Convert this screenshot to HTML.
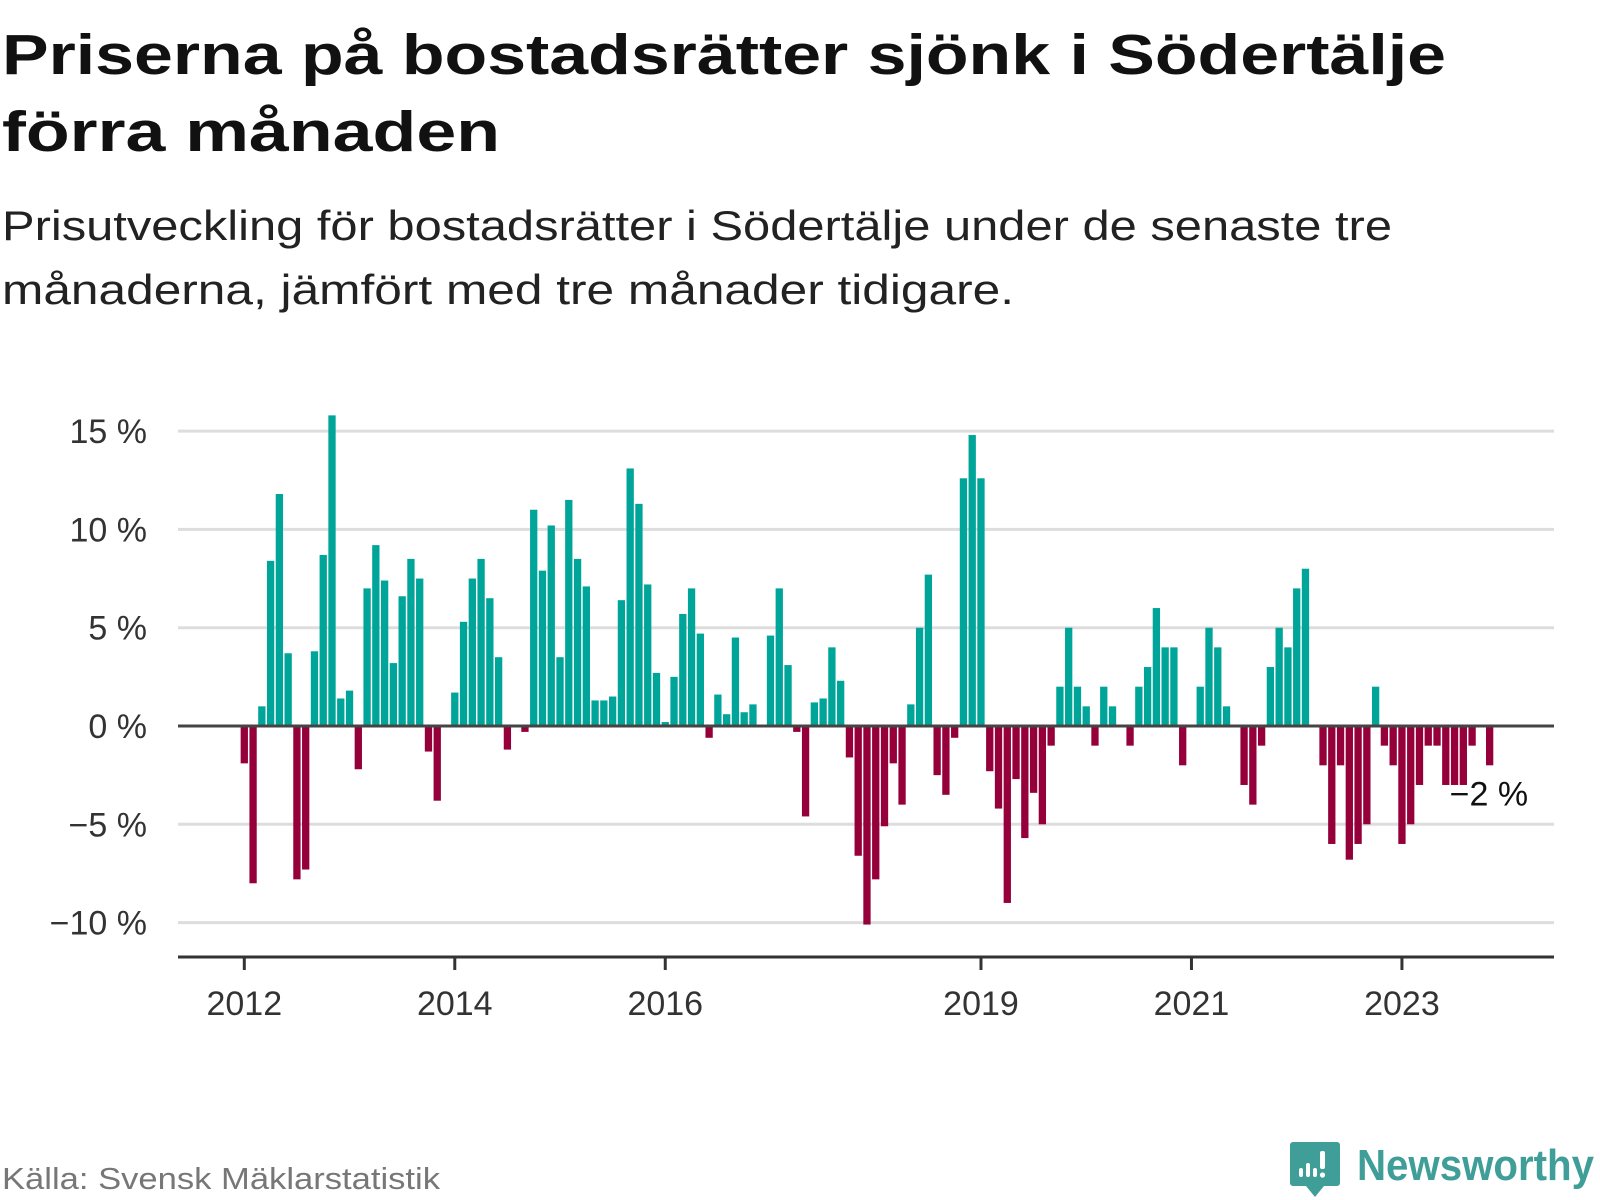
<!DOCTYPE html>
<html><head><meta charset="utf-8">
<style>
html,body{margin:0;padding:0;background:#fff;}
svg{display:block;font-family:"Liberation Sans","DejaVu Sans",sans-serif;}
</style></head>
<body>
<svg id="chart" width="1600" height="1200" viewBox="0 0 1600 1200" xmlns="http://www.w3.org/2000/svg">
  <text x="2" y="74" font-size="57" font-weight="bold" fill="#111" textLength="1444" lengthAdjust="spacingAndGlyphs">Priserna på bostadsrätter sjönk i Södertälje</text>
  <text x="2" y="151" font-size="57" font-weight="bold" fill="#111" textLength="498" lengthAdjust="spacingAndGlyphs">förra månaden</text>
  <text x="2" y="240" font-size="42" fill="#222" textLength="1390" lengthAdjust="spacingAndGlyphs">Prisutveckling för bostadsrätter i Södertälje under de senaste tre</text>
  <text x="2" y="304" font-size="42" fill="#222" textLength="1012" lengthAdjust="spacingAndGlyphs">månaderna, jämfört med tre månader tidigare.</text>
  <g id="grid"></g>
  <g id="yticks"></g>
  <g id="bars"></g>
  <line id="zeroLine" stroke="#444" stroke-width="3"></line>
  <g id="xaxis"></g>
  <text id="lastLabel" font-size="34" fill="#111">−2 %</text>
  <text x="2" y="1189" font-size="31" fill="#777" textLength="438" lengthAdjust="spacingAndGlyphs">Källa: Svensk Mäklarstatistik</text>
  <g>
    <path d="M1293 1142 h44 a3 3 0 0 1 3 3 v38 a3 3 0 0 1 -3 3 h-13 l-9 11 l-9 -11 h-13 a3 3 0 0 1 -3 -3 v-38 a3 3 0 0 1 3 -3z" fill="#3f9e97"/>
    <rect x="1299" y="1168" width="4" height="9" rx="2" fill="#fff"/>
    <rect x="1306" y="1163" width="4" height="14" rx="2" fill="#fff"/>
    <rect x="1313" y="1168" width="4" height="9" rx="2" fill="#fff"/>
    <rect x="1320" y="1151" width="5" height="18" rx="2" fill="#fff"/>
    <circle cx="1322.5" cy="1175" r="2.6" fill="#fff"/>
    <text x="1357" y="1180" font-size="44" font-weight="bold" fill="#3f9e97" textLength="237" lengthAdjust="spacingAndGlyphs">Newsworthy</text>
  </g>
</svg>
<script>
// Monthly values from Jan 2012 (index 0) in percent
const startYear = 2012;
const values = [
 -1.9,-8.0,1.0,8.4,11.8,3.7,-7.8,-7.3,3.8,8.7,15.8,1.4,
 1.8,-2.2,7.0,9.2,7.4,3.2,6.6,8.5,7.5,-1.3,-3.8,0,
 1.7,5.3,7.5,8.5,6.5,3.5,-1.2,0,-0.3,11.0,7.9,10.2,
 3.5,11.5,8.5,7.1,1.3,1.3,1.5,6.4,13.1,11.3,7.2,2.7,
 0.2,2.5,5.7,7.0,4.7,-0.6,1.6,0.6,4.5,0.7,1.1,0,
 4.6,7.0,3.1,-0.3,-4.6,1.2,1.4,4.0,2.3,-1.6,-6.6,-10.1,
 -7.8,-5.1,-1.9,-4.0,1.1,5.0,7.7,-2.5,-3.5,-0.6,12.6,14.8,
 12.6,-2.3,-4.2,-9.0,-2.7,-5.7,-3.4,-5.0,-1.0,2.0,5.0,2.0,
 1.0,-1.0,2.0,1.0,0,-1.0,2.0,3.0,6.0,4.0,4.0,-2.0,
 0,2.0,5.0,4.0,1.0,0,-3.0,-4.0,-1.0,3.0,5.0,4.0,
 7.0,8.0,0,-2.0,-6.0,-2.0,-6.8,-6.0,-5.0,2.0,-1.0,-2.0,
 -6.0,-5.0,-3.0,-1.0,-1.0,-3.0,-3.0,-3.0,-1.0,0,-2.0
];
const yTicks = [-10,-5,0,5,10,15];
const yTickLabels = ["−10 %","−5 %","0 %","5 %","10 %","15 %"];
const xTickYears = [2012,2014,2016,2019,2021,2023];
const lastLabelText = "−2 %";

const NS = "http://www.w3.org/2000/svg";
const plotLeft = 178, plotRight = 1554;
const y0 = 726, pxPerPct = 19.66, axisY = 957;
const x0 = 244.3, monthW = 8.77, barW = 7.3;
function yScale(v){ return y0 - v*pxPerPct; }
function xScale(i){ return x0 + i*monthW; }
function mk(tag, attrs, parent){ const e=document.createElementNS(NS,tag); for(const k in attrs) e.setAttribute(k,attrs[k]); parent.appendChild(e); return e; }

const grid = document.getElementById('grid');
const yt = document.getElementById('yticks');
yTicks.forEach((t,i)=>{
  if(t!==0){
    const l = mk('line',{x1:plotLeft,x2:plotRight,y1:yScale(t),y2:yScale(t),stroke:'#dddddd','stroke-width':3},grid);
    
    
  }
  const tx = mk('text',{x:147,y:yScale(t)+12,'text-anchor':'end','font-size':34,fill:'#333'},yt);
  tx.textContent = yTickLabels[i];
  
  
});

const bars = document.getElementById('bars');
values.forEach((v,i)=>{
  if(v===0) return;
  const y = v>0 ? yScale(v) : y0;
  const h = Math.abs(yScale(v)-y0);
  const r = mk('rect',{x:xScale(i)-barW/2,y:y,width:barW,height:h,fill:v>0?'#00a59a':'#96003a'},bars);
  
  
});

const zl = document.getElementById('zeroLine');
zl.setAttribute('x1',plotLeft); zl.setAttribute('x2',plotRight);
zl.setAttribute('y1',y0); zl.setAttribute('y2',y0);

const xa = document.getElementById('xaxis');
const al = mk('line',{x1:plotLeft,x2:plotRight,y1:axisY,y2:axisY,stroke:'#333','stroke-width':3},xa);


xTickYears.forEach(yr=>{
  const x = xScale((yr-startYear)*12);
  const tk = mk('line',{x1:x,x2:x,y1:axisY,y2:axisY+13,stroke:'#333','stroke-width':3},xa);
  
  
  const t = mk('text',{x:x,y:1015,'text-anchor':'middle','font-size':34,fill:'#333'},xa);
  t.textContent = yr;
  
  
});

const ll = document.getElementById('lastLabel');
ll.textContent = lastLabelText;
ll.setAttribute('x', xScale(values.length-1) - 40);
ll.setAttribute('y', yScale(values[values.length-1]) + 40);
</script>
</body></html>
